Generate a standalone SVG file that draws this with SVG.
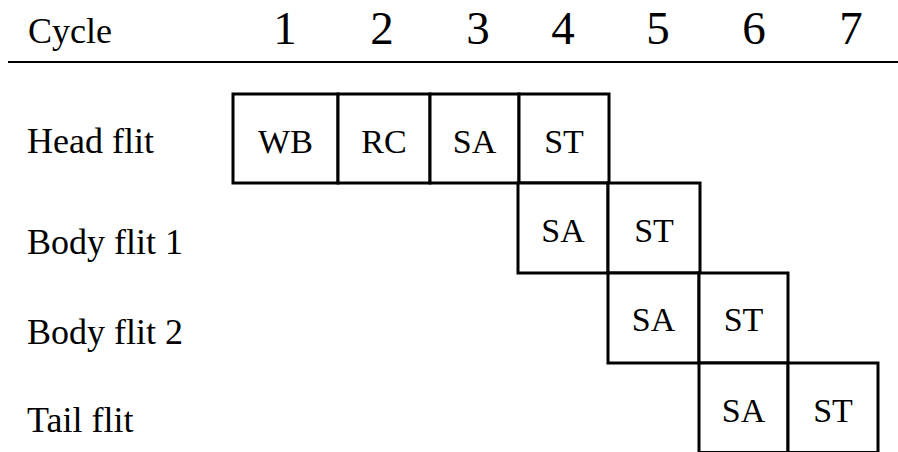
<svg xmlns="http://www.w3.org/2000/svg" width="898" height="452" viewBox="0 0 898 452" font-family="'Liberation Serif', 'DejaVu Serif', serif">
  <style>
    text { font-family: 'Liberation Serif', 'DejaVu Serif', serif; fill: #000; }
    .hdr { font-size: 47px; text-anchor: middle; }
    .lbl { font-size: 36px; }
    .cell rect { fill: #fff; stroke: #000; stroke-width: 3; }
    .cell text { font-size: 34px; text-anchor: middle; }
    .rule { stroke: #000; stroke-width: 2; }
  </style>
  <rect width="898" height="452" fill="#fff"/>

  <!-- header row -->
  <g id="header">
    <text class="lbl" x="28" y="43">Cycle</text>
    <text class="hdr" x="285" y="44">1</text>
    <text class="hdr" x="382" y="44">2</text>
    <text class="hdr" x="478" y="44">3</text>
    <text class="hdr" x="563" y="44">4</text>
    <text class="hdr" x="658" y="44">5</text>
    <text class="hdr" x="754" y="44">6</text>
    <text class="hdr" x="851" y="44">7</text>
    <line class="rule" x1="8" y1="62" x2="898" y2="62"/>
  </g>

  <!-- row labels -->
  <g id="label-head"><text class="lbl" x="27" y="153">Head flit</text></g>
  <g id="label-body1"><text class="lbl" x="27" y="254">Body flit 1</text></g>
  <g id="label-body2"><text class="lbl" x="27" y="344">Body flit 2</text></g>
  <g id="label-tail"><text class="lbl" x="27" y="432">Tail flit</text></g>

  <!-- head flit stages -->
  <g id="head-wb" class="cell"><rect x="233" y="94" width="105" height="89"/><text x="285.5" y="153">WB</text></g>
  <g id="head-rc" class="cell"><rect x="338" y="94" width="92" height="89"/><text x="384" y="153">RC</text></g>
  <g id="head-sa" class="cell"><rect x="430" y="94" width="89" height="89"/><text x="474.5" y="153">SA</text></g>
  <g id="head-st" class="cell"><rect x="519" y="94" width="90" height="89"/><text x="564" y="153">ST</text></g>

  <!-- body flit 1 stages -->
  <g id="body1-sa" class="cell"><rect x="518" y="183" width="90" height="90"/><text x="563" y="242">SA</text></g>
  <g id="body1-st" class="cell"><rect x="608" y="183" width="92" height="90"/><text x="654" y="242">ST</text></g>

  <!-- body flit 2 stages -->
  <g id="body2-sa" class="cell"><rect x="608" y="273" width="91" height="90"/><text x="653.5" y="331">SA</text></g>
  <g id="body2-st" class="cell"><rect x="699" y="273" width="89" height="90"/><text x="743.5" y="331">ST</text></g>

  <!-- tail flit stages -->
  <g id="tail-sa" class="cell"><rect x="699" y="363" width="89" height="89.5"/><text x="743.5" y="422">SA</text></g>
  <g id="tail-st" class="cell"><rect x="788" y="363" width="90" height="89.5"/><text x="833" y="422">ST</text></g>

  <g id="connectors"></g>
</svg>
